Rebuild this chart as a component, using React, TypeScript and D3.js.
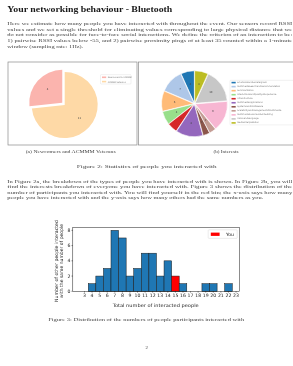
import * as d3 from "d3";

// page text
const titleText = "Your networking behaviour - Bluetooth";
const para1 = [
  "Here we estimate how many people you have interacted with throughout the event. Our sensors record RSSI",
  "values and we set a single threshold for eliminating values corresponding to large physical distance that we",
  "do not consider as possible for face-to-face social interactions. We define the criterion of an interaction to be:",
  "1) pairwise RSSI values below -55, and 2) pairwise proximity pings of at least 35 counted within a 1-minute",
  "window (sampling rate: 1Hz).",
];
const para2 = [
  "In Figure 2a, the breakdown of the types of people you have interacted with is shown. In Figure 2b, you will",
  "find the interests breakdown of everyone you have interacted with. Figure 3 shows the distribution of the",
  "number of participants you interacted with. You will find yourself in the red bin; the x-axis says how many",
  "people you have interacted with and the y-axis says how many others had the same numbers as you.",
];

// figure 2a
const typeLabels = ["Newcomers to ACMMM", "ACMMM Veterans"];
const typeValues = [4, 11];
const typeColors = ["#fbb4ae", "#fed9a6"];

// figure 2b
const interestLabels = [
  "EmotionalandSocialSignals",
  "MultimediaSearchandRecommendation",
  "Summarization",
  "InteractionsandQualityofExperience",
  "ArtandCulture",
  "MultimediaApplications",
  "SystemsandMiddleware",
  "ScalabilityandManagementofMultimedia",
  "MultimodalFusionandEmbedding",
  "VisionandLanguage",
  "MediaInterpretation",
];
const interestValues = [4, 7, 6, 4, 3, 8, 2, 2, 9, 10, 4];
const interestColors = [
  "#1f77b4", "#aec7e8", "#ffbb78", "#98df8a", "#d62728", "#9467bd",
  "#8c564b", "#c49c94", "#f7b6d2", "#c7c7c7", "#bcbd22",
];

// figure 3
const binTicks = [3, 4, 5, 6, 7, 8, 9, 10, 11, 12, 13, 14, 15, 16, 17, 18, 19, 20, 21, 22, 23];
const binCounts = [0, 1, 2, 3, 8, 7, 2, 3, 5, 5, 2, 4, 2, 1, 0, 0, 1, 1, 0, 1, 0];
const youBin = 15;
const yTicks = [0, 2, 4, 6, 8];

const SERIF = "'Liberation Serif', serif";
const SANS = "'DejaVu Sans', sans-serif";
const INK = "#444";
// tiny rotation keeps text on grayscale antialiasing
const GRAY_AA = "rotate(0.0005)";

function Pie({ values, colors, cx, cy, r, explode, stroke }: any) {
  const arcs = d3.pie<number>().sort(null).startAngle(0).endAngle(-2 * Math.PI)(values);
  const arc = d3.arc<any>().innerRadius(0).outerRadius(r);
  const lab = d3.arc<any>().innerRadius(0).outerRadius(1.2 * r);
  return (
    <g transform={`translate(${cx},${cy})`}>
      {arcs.map((d, i) => {
        const mid = (d.startAngle + d.endAngle) / 2;
        const e = explode[i] * r;
        const dx = Math.sin(mid) * e;
        const dy = -Math.cos(mid) * e;
        const [lx, ly] = lab.centroid(d);
        return (
          <g key={i} transform={`translate(${dx},${dy})`}>
            <path d={arc(d) as string} fill={colors[i]} stroke={stroke} strokeWidth={0.6} />
            <text x={lx} y={ly} fontSize={2.6} fontFamily={SANS} textAnchor="middle" dominantBaseline="central" fill={INK}>
              {values[i]}
            </text>
          </g>
        );
      })}
    </g>
  );
}

function Legend({ labels, colors, x, y, w, h, rowY, step, fs }: any) {
  return (
    <g>
      <rect x={x} y={y} width={w} height={h} rx={0.6} fill="white" stroke="#d0d0d0" strokeWidth={0.3} />
      {labels.map((l: string, i: number) => (
        <g key={l}>
          <rect x={x + 1.5} y={rowY + i * step - 0.8} width={4.2} height={1.6} fill={colors[i]} />
          <text x={x + 7.2} y={rowY + i * step} fontSize={fs} fontFamily={SANS} dominantBaseline="central" fill="#777">
            {l}
          </text>
        </g>
      ))}
    </g>
  );
}

function Histogram() {
  const x = d3.scaleLinear().domain([1.46, 23.43]).range([72.8, 239.3]);
  const y = d3.scaleLinear().domain([0, 8.4]).range([291.3, 227.3]);
  const [x0, x1] = x.range();
  const [yb, yt] = y.range();
  return (
    <g fontFamily={SANS}>
      {binTicks.map((b, i) =>
        binCounts[i] > 0 ? (
          <rect
            key={b}
            x={x(b - 0.5)}
            y={y(binCounts[i])}
            width={x(b + 0.5) - x(b - 0.5)}
            height={y(0) - y(binCounts[i])}
            fill={b === youBin ? "#ff0000" : "#1f77b4"}
            stroke="#1a1a1a"
            strokeWidth={0.5}
          />
        ) : null
      )}
      <rect x={x0} y={yt} width={x1 - x0} height={yb - yt} fill="none" stroke="#000" strokeWidth={0.45} />
      <g fill="#222" transform={GRAY_AA}>
        {binTicks.map((b) => (
          <g key={b}>
            <line x1={x(b)} x2={x(b)} y1={yb} y2={yb + 1.3} stroke="#000" strokeWidth={0.45} />
            <text x={x(b)} y={297.3} fontSize={4.6} textAnchor="middle">{b}</text>
          </g>
        ))}
        {yTicks.map((t) => (
          <g key={t}>
            <line x1={x0 - 1.3} x2={x0} y1={y(t)} y2={y(t)} stroke="#000" strokeWidth={0.45} />
            <text x={70.4} y={y(t)} fontSize={4.6} textAnchor="end" dominantBaseline="central">{t}</text>
          </g>
        ))}
        <text x={155.7} y={306.6} fontSize={4.6} textAnchor="middle" textLength={86} lengthAdjust="spacingAndGlyphs">
          Total number of interacted people
        </text>
        <g transform="translate(57.8,261) rotate(-90)">
          <text x={0} y={0} fontSize={4.6} textAnchor="middle" textLength={82} lengthAdjust="spacingAndGlyphs">
            Number of other people interacted
          </text>
          <text x={0} y={5.7} fontSize={4.6} textAnchor="middle" textLength={74} lengthAdjust="spacingAndGlyphs">
            with the same number of people
          </text>
        </g>
      </g>
      <rect x={208.2} y={229.8} width={29} height={8.6} rx={0.8} fill="white" stroke="#d0d0d0" strokeWidth={0.4} />
      <rect x={210.8} y={232.6} width={8.8} height={3.3} fill="#ff0000" />
      <text x={226} y={235.8} fontSize={4.6} fill="#222" transform={GRAY_AA}>You</text>
    </g>
  );
}

export default function App() {
  const left = 7.3;
  const full = 285;
  return (
    <svg width={293} height={366} style={{ position: "absolute", left: 0, top: 0, display: "block", willChange: "transform" }}>
      <rect x={8} y={62} width={129} height={83} fill="none" stroke="#8a8a8a" strokeWidth={0.7} />
      <rect x={138.5} y={62} width={160} height={83} fill="none" stroke="#8a8a8a" strokeWidth={0.7} />

      <Pie values={typeValues} colors={typeColors} cx={64.7} cy={105} r={33} explode={[0.1, 0]} stroke="none" />
      <Legend labels={typeLabels} colors={typeColors} x={100.5} y={74.6} w={30.5} h={9.4} rowY={77.3} step={4.3} fs={2.1} />

      <Pie values={interestValues} colors={interestColors} cx={194.5} cy={103.7} r={32.3}
        explode={interestValues.map(() => 0.02)} stroke="white" />
      <Legend labels={interestLabels} colors={interestColors} x={230} y={80.3} w={66} h={44.6} rowY={82.6} step={4.03} fs={2.2} />

      <Histogram />

      <g fill={INK} fontFamily={SERIF} fontSize={4.8} transform={GRAY_AA}>
        <text x={left} y={11.9} fontWeight="bold" fontSize={7.4} fill="#1a1a1a" textLength={165} lengthAdjust="spacingAndGlyphs">
          {titleText}
        </text>
        {para1.map((l, i) => (
          <text key={i} x={left} y={24.8 + i * 5.75}
            textLength={i < para1.length - 1 ? full : 76} lengthAdjust="spacingAndGlyphs">
            {l}
          </text>
        ))}
        <text x={70.7} y={152.5} textAnchor="middle" textLength={90} lengthAdjust="spacingAndGlyphs">
          (a) Newcomers and ACMMM Veterans
        </text>
        <text x={226} y={152.5} textAnchor="middle" textLength={25} lengthAdjust="spacingAndGlyphs">
          (b) Interests
        </text>
        <text x={146.7} y={168.2} textAnchor="middle" textLength={140} lengthAdjust="spacingAndGlyphs">
          Figure 2: Statistics of people you interacted with
        </text>
        {para2.map((l, i) => (
          <text key={i} x={left} y={182.5 + i * 5.6}
            textLength={i < para2.length - 1 ? full : 256} lengthAdjust="spacingAndGlyphs">
            {l}
          </text>
        ))}
        <text x={146.2} y={320.5} textAnchor="middle" textLength={196} lengthAdjust="spacingAndGlyphs">
          Figure 3: Distribution of the numbers of people participants interacted with
        </text>
        <text x={146.7} y={348.8} textAnchor="middle">2</text>
      </g>
    </svg>
  );
}
